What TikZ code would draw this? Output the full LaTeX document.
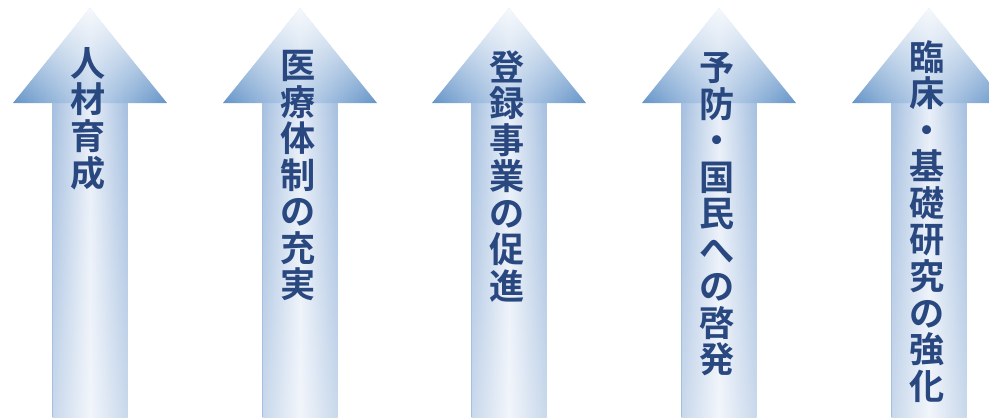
\documentclass[tikz,border=0pt]{standalone}
\usepackage{fontspec}
\newfontfamily\jp{Noto Sans CJK JP}[BoldFont={Noto Sans CJK JP Bold}]
\usetikzlibrary{fadings}
\definecolor{headedge}{RGB}{100,148,200}
\definecolor{headmid}{RGB}{194,213,236}
\definecolor{shaftedge}{RGB}{166,192,224}
\definecolor{shaftmid}{RGB}{234,240,249}
\definecolor{txt}{RGB}{42,72,128}
\tikzfading[name=tipfade, top color=transparent!15, bottom color=transparent!100]
\tikzfading[name=lowfade, top color=transparent!100, bottom color=transparent!60]
\begin{document}
\begin{tikzpicture}[x=0.02cm, y=0.02cm, line join=round]
	\def\hw{77}
	\def\sw{37.5}
	\def\hb{314}
	\def\tip{409}
	\tikzset{
		pfeil/.pic={
			\shade[left color=shaftedge, right color=shaftedge, middle color=shaftmid] (-\sw,-5) rectangle (\sw,\hb+1);
			\fill[white, path fading=lowfade] (-\sw,-5) rectangle (\sw,\hb+1);
			\shade[left color=headedge, right color=headedge, middle color=headmid] (-\hw,\hb)--(0,\tip)--(\hw,\hb)--cycle;
			\fill[white, path fading=tipfade] (-\hw,\hb)--(0,\tip)--(\hw,\hb)--cycle;
		},
		label/.style={inner sep=0pt, anchor=north, align=center, text=txt,
			font=\jp\bfseries\fontsize{20}{20.8}\selectfont}
	}
	\useasboundingbox (0,0) rectangle (989,417);
	\clip (0,0) rectangle (989,417);
	\foreach \cx/\ty/\txt [count=\i] in {
			90/370/{人\\材\\育\\成},
			300/367/{医\\療\\体\\制\\の\\充\\実},
			509/367/{登\\録\\事\\業\\の\\促\\進},
			719/365/{予\\防\\・\\国\\民\\へ\\の\\啓\\発},
			929/377/{臨\\床\\・\\基\\礎\\研\\究\\の\\強\\化}}{
		\pic at (\cx,0) {pfeil};
		\node[label] (t\i) at (\cx-2,\ty) {\txt};
	}
\end{tikzpicture}
\end{document}
